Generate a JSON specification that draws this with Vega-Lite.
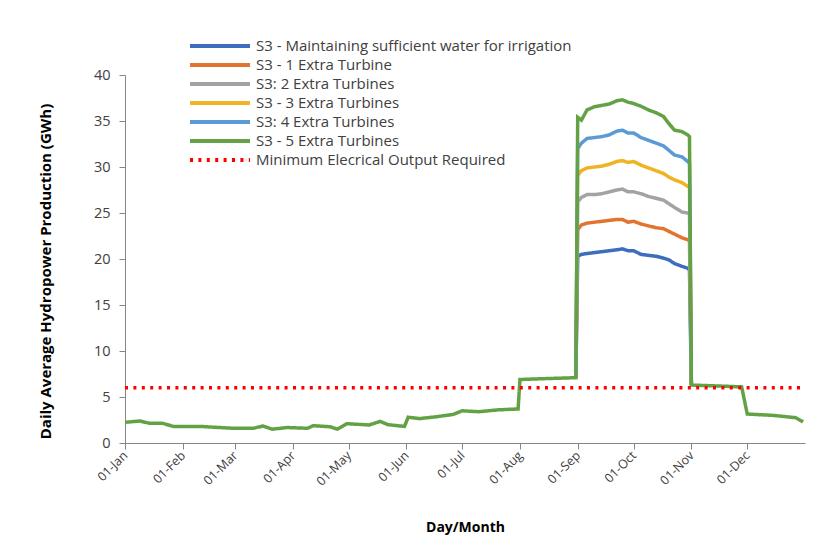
{
  "$schema": "https://vega.github.io/schema/vega-lite/v6.json",
  "width": 680,
  "height": 368,
  "autosize": {"type": "none"},
  "padding": {"left": 125, "top": 75, "right": 28, "bottom": 109},
  "background": "white",
  "config": {
    "view": {"stroke": null},
    "font": "Open Sans",
    "legend": {"padding": 0}
  },
  "data": {
    "values": [
      {"d": "2015/08/31", "s": "S3 - Maintaining sufficient water for irrigation", "v": 7.1},
      {"d": "2015/09/01", "s": "S3 - Maintaining sufficient water for irrigation", "v": 20.3},
      {"d": "2015/09/03", "s": "S3 - Maintaining sufficient water for irrigation", "v": 20.5},
      {"d": "2015/09/06", "s": "S3 - Maintaining sufficient water for irrigation", "v": 20.6},
      {"d": "2015/09/10", "s": "S3 - Maintaining sufficient water for irrigation", "v": 20.7},
      {"d": "2015/09/14", "s": "S3 - Maintaining sufficient water for irrigation", "v": 20.8},
      {"d": "2015/09/18", "s": "S3 - Maintaining sufficient water for irrigation", "v": 20.9},
      {"d": "2015/09/22", "s": "S3 - Maintaining sufficient water for irrigation", "v": 21.0},
      {"d": "2015/09/25", "s": "S3 - Maintaining sufficient water for irrigation", "v": 21.1},
      {"d": "2015/09/28", "s": "S3 - Maintaining sufficient water for irrigation", "v": 20.9},
      {"d": "2015/10/01", "s": "S3 - Maintaining sufficient water for irrigation", "v": 20.9},
      {"d": "2015/10/05", "s": "S3 - Maintaining sufficient water for irrigation", "v": 20.5},
      {"d": "2015/10/09", "s": "S3 - Maintaining sufficient water for irrigation", "v": 20.4},
      {"d": "2015/10/13", "s": "S3 - Maintaining sufficient water for irrigation", "v": 20.3},
      {"d": "2015/10/17", "s": "S3 - Maintaining sufficient water for irrigation", "v": 20.1},
      {"d": "2015/10/20", "s": "S3 - Maintaining sufficient water for irrigation", "v": 19.9},
      {"d": "2015/10/23", "s": "S3 - Maintaining sufficient water for irrigation", "v": 19.5},
      {"d": "2015/10/27", "s": "S3 - Maintaining sufficient water for irrigation", "v": 19.2},
      {"d": "2015/10/30", "s": "S3 - Maintaining sufficient water for irrigation", "v": 19.0},
      {"d": "2015/10/31", "s": "S3 - Maintaining sufficient water for irrigation", "v": 18.8},
      {"d": "2015/11/01", "s": "S3 - Maintaining sufficient water for irrigation", "v": 6.3},

      {"d": "2015/08/31", "s": "S3 - 1 Extra Turbine", "v": 7.1},
      {"d": "2015/09/01", "s": "S3 - 1 Extra Turbine", "v": 23.2},
      {"d": "2015/09/03", "s": "S3 - 1 Extra Turbine", "v": 23.7},
      {"d": "2015/09/06", "s": "S3 - 1 Extra Turbine", "v": 23.9},
      {"d": "2015/09/10", "s": "S3 - 1 Extra Turbine", "v": 24.0},
      {"d": "2015/09/14", "s": "S3 - 1 Extra Turbine", "v": 24.1},
      {"d": "2015/09/18", "s": "S3 - 1 Extra Turbine", "v": 24.2},
      {"d": "2015/09/22", "s": "S3 - 1 Extra Turbine", "v": 24.3},
      {"d": "2015/09/25", "s": "S3 - 1 Extra Turbine", "v": 24.3},
      {"d": "2015/09/28", "s": "S3 - 1 Extra Turbine", "v": 24.0},
      {"d": "2015/10/01", "s": "S3 - 1 Extra Turbine", "v": 24.1},
      {"d": "2015/10/05", "s": "S3 - 1 Extra Turbine", "v": 23.8},
      {"d": "2015/10/09", "s": "S3 - 1 Extra Turbine", "v": 23.6},
      {"d": "2015/10/13", "s": "S3 - 1 Extra Turbine", "v": 23.4},
      {"d": "2015/10/17", "s": "S3 - 1 Extra Turbine", "v": 23.3},
      {"d": "2015/10/20", "s": "S3 - 1 Extra Turbine", "v": 23.0},
      {"d": "2015/10/23", "s": "S3 - 1 Extra Turbine", "v": 22.7},
      {"d": "2015/10/27", "s": "S3 - 1 Extra Turbine", "v": 22.3},
      {"d": "2015/10/30", "s": "S3 - 1 Extra Turbine", "v": 22.1},
      {"d": "2015/10/31", "s": "S3 - 1 Extra Turbine", "v": 22.1},
      {"d": "2015/11/01", "s": "S3 - 1 Extra Turbine", "v": 6.3},

      {"d": "2015/08/31", "s": "S3: 2 Extra Turbines", "v": 7.1},
      {"d": "2015/09/01", "s": "S3: 2 Extra Turbines", "v": 26.2},
      {"d": "2015/09/03", "s": "S3: 2 Extra Turbines", "v": 26.7},
      {"d": "2015/09/06", "s": "S3: 2 Extra Turbines", "v": 27.0},
      {"d": "2015/09/10", "s": "S3: 2 Extra Turbines", "v": 27.0},
      {"d": "2015/09/14", "s": "S3: 2 Extra Turbines", "v": 27.1},
      {"d": "2015/09/18", "s": "S3: 2 Extra Turbines", "v": 27.3},
      {"d": "2015/09/22", "s": "S3: 2 Extra Turbines", "v": 27.5},
      {"d": "2015/09/25", "s": "S3: 2 Extra Turbines", "v": 27.6},
      {"d": "2015/09/28", "s": "S3: 2 Extra Turbines", "v": 27.3},
      {"d": "2015/10/01", "s": "S3: 2 Extra Turbines", "v": 27.3},
      {"d": "2015/10/05", "s": "S3: 2 Extra Turbines", "v": 27.1},
      {"d": "2015/10/09", "s": "S3: 2 Extra Turbines", "v": 26.8},
      {"d": "2015/10/13", "s": "S3: 2 Extra Turbines", "v": 26.6},
      {"d": "2015/10/17", "s": "S3: 2 Extra Turbines", "v": 26.4},
      {"d": "2015/10/20", "s": "S3: 2 Extra Turbines", "v": 26.0},
      {"d": "2015/10/23", "s": "S3: 2 Extra Turbines", "v": 25.6},
      {"d": "2015/10/27", "s": "S3: 2 Extra Turbines", "v": 25.1},
      {"d": "2015/10/30", "s": "S3: 2 Extra Turbines", "v": 25.0},
      {"d": "2015/10/31", "s": "S3: 2 Extra Turbines", "v": 25.0},
      {"d": "2015/11/01", "s": "S3: 2 Extra Turbines", "v": 6.3},

      {"d": "2015/08/31", "s": "S3 - 3 Extra Turbines", "v": 7.1},
      {"d": "2015/09/01", "s": "S3 - 3 Extra Turbines", "v": 29.1},
      {"d": "2015/09/03", "s": "S3 - 3 Extra Turbines", "v": 29.6},
      {"d": "2015/09/06", "s": "S3 - 3 Extra Turbines", "v": 29.9},
      {"d": "2015/09/10", "s": "S3 - 3 Extra Turbines", "v": 30.0},
      {"d": "2015/09/14", "s": "S3 - 3 Extra Turbines", "v": 30.1},
      {"d": "2015/09/18", "s": "S3 - 3 Extra Turbines", "v": 30.3},
      {"d": "2015/09/22", "s": "S3 - 3 Extra Turbines", "v": 30.6},
      {"d": "2015/09/25", "s": "S3 - 3 Extra Turbines", "v": 30.7},
      {"d": "2015/09/28", "s": "S3 - 3 Extra Turbines", "v": 30.5},
      {"d": "2015/10/01", "s": "S3 - 3 Extra Turbines", "v": 30.6},
      {"d": "2015/10/05", "s": "S3 - 3 Extra Turbines", "v": 30.2},
      {"d": "2015/10/09", "s": "S3 - 3 Extra Turbines", "v": 29.9},
      {"d": "2015/10/13", "s": "S3 - 3 Extra Turbines", "v": 29.6},
      {"d": "2015/10/17", "s": "S3 - 3 Extra Turbines", "v": 29.3},
      {"d": "2015/10/20", "s": "S3 - 3 Extra Turbines", "v": 28.9},
      {"d": "2015/10/23", "s": "S3 - 3 Extra Turbines", "v": 28.6},
      {"d": "2015/10/27", "s": "S3 - 3 Extra Turbines", "v": 28.3},
      {"d": "2015/10/30", "s": "S3 - 3 Extra Turbines", "v": 27.9},
      {"d": "2015/10/31", "s": "S3 - 3 Extra Turbines", "v": 27.8},
      {"d": "2015/11/01", "s": "S3 - 3 Extra Turbines", "v": 6.3},

      {"d": "2015/08/31", "s": "S3: 4 Extra Turbines", "v": 7.1},
      {"d": "2015/09/01", "s": "S3: 4 Extra Turbines", "v": 32.0},
      {"d": "2015/09/03", "s": "S3: 4 Extra Turbines", "v": 32.6},
      {"d": "2015/09/06", "s": "S3: 4 Extra Turbines", "v": 33.1},
      {"d": "2015/09/10", "s": "S3: 4 Extra Turbines", "v": 33.2},
      {"d": "2015/09/14", "s": "S3: 4 Extra Turbines", "v": 33.3},
      {"d": "2015/09/18", "s": "S3: 4 Extra Turbines", "v": 33.5},
      {"d": "2015/09/22", "s": "S3: 4 Extra Turbines", "v": 33.9},
      {"d": "2015/09/25", "s": "S3: 4 Extra Turbines", "v": 34.0},
      {"d": "2015/09/28", "s": "S3: 4 Extra Turbines", "v": 33.7},
      {"d": "2015/10/01", "s": "S3: 4 Extra Turbines", "v": 33.7},
      {"d": "2015/10/05", "s": "S3: 4 Extra Turbines", "v": 33.2},
      {"d": "2015/10/09", "s": "S3: 4 Extra Turbines", "v": 32.9},
      {"d": "2015/10/13", "s": "S3: 4 Extra Turbines", "v": 32.6},
      {"d": "2015/10/17", "s": "S3: 4 Extra Turbines", "v": 32.3},
      {"d": "2015/10/20", "s": "S3: 4 Extra Turbines", "v": 31.8},
      {"d": "2015/10/23", "s": "S3: 4 Extra Turbines", "v": 31.3},
      {"d": "2015/10/27", "s": "S3: 4 Extra Turbines", "v": 31.1},
      {"d": "2015/10/30", "s": "S3: 4 Extra Turbines", "v": 30.6},
      {"d": "2015/10/31", "s": "S3: 4 Extra Turbines", "v": 30.4},
      {"d": "2015/11/01", "s": "S3: 4 Extra Turbines", "v": 6.3},

      {"d": "2015/01/01", "s": "S3 - 5 Extra Turbines", "v": 2.25},
      {"d": "2015/01/09", "s": "S3 - 5 Extra Turbines", "v": 2.39},
      {"d": "2015/01/14", "s": "S3 - 5 Extra Turbines", "v": 2.15},
      {"d": "2015/01/21", "s": "S3 - 5 Extra Turbines", "v": 2.15},
      {"d": "2015/01/27", "s": "S3 - 5 Extra Turbines", "v": 1.8},
      {"d": "2015/02/12", "s": "S3 - 5 Extra Turbines", "v": 1.78},
      {"d": "2015/02/28", "s": "S3 - 5 Extra Turbines", "v": 1.6},
      {"d": "2015/03/11", "s": "S3 - 5 Extra Turbines", "v": 1.6},
      {"d": "2015/03/16", "s": "S3 - 5 Extra Turbines", "v": 1.85},
      {"d": "2015/03/21", "s": "S3 - 5 Extra Turbines", "v": 1.5},
      {"d": "2015/03/29", "s": "S3 - 5 Extra Turbines", "v": 1.68},
      {"d": "2015/04/09", "s": "S3 - 5 Extra Turbines", "v": 1.6},
      {"d": "2015/04/12", "s": "S3 - 5 Extra Turbines", "v": 1.88},
      {"d": "2015/04/21", "s": "S3 - 5 Extra Turbines", "v": 1.77},
      {"d": "2015/04/25", "s": "S3 - 5 Extra Turbines", "v": 1.5},
      {"d": "2015/04/30", "s": "S3 - 5 Extra Turbines", "v": 2.1},
      {"d": "2015/05/12", "s": "S3 - 5 Extra Turbines", "v": 1.96},
      {"d": "2015/05/18", "s": "S3 - 5 Extra Turbines", "v": 2.35},
      {"d": "2015/05/22", "s": "S3 - 5 Extra Turbines", "v": 2.0},
      {"d": "2015/05/31", "s": "S3 - 5 Extra Turbines", "v": 1.8},
      {"d": "2015/06/02", "s": "S3 - 5 Extra Turbines", "v": 2.8},
      {"d": "2015/06/08", "s": "S3 - 5 Extra Turbines", "v": 2.65},
      {"d": "2015/06/17", "s": "S3 - 5 Extra Turbines", "v": 2.85},
      {"d": "2015/06/26", "s": "S3 - 5 Extra Turbines", "v": 3.1},
      {"d": "2015/07/01", "s": "S3 - 5 Extra Turbines", "v": 3.5},
      {"d": "2015/07/10", "s": "S3 - 5 Extra Turbines", "v": 3.4},
      {"d": "2015/07/20", "s": "S3 - 5 Extra Turbines", "v": 3.6},
      {"d": "2015/07/31", "s": "S3 - 5 Extra Turbines", "v": 3.7},
      {"d": "2015/08/01", "s": "S3 - 5 Extra Turbines", "v": 6.9},
      {"d": "2015/08/15", "s": "S3 - 5 Extra Turbines", "v": 7.0},
      {"d": "2015/08/31", "s": "S3 - 5 Extra Turbines", "v": 7.1},
      {"d": "2015/09/01", "s": "S3 - 5 Extra Turbines", "v": 35.4},
      {"d": "2015/09/03", "s": "S3 - 5 Extra Turbines", "v": 35.1},
      {"d": "2015/09/06", "s": "S3 - 5 Extra Turbines", "v": 36.2},
      {"d": "2015/09/10", "s": "S3 - 5 Extra Turbines", "v": 36.55},
      {"d": "2015/09/14", "s": "S3 - 5 Extra Turbines", "v": 36.7},
      {"d": "2015/09/18", "s": "S3 - 5 Extra Turbines", "v": 36.85},
      {"d": "2015/09/22", "s": "S3 - 5 Extra Turbines", "v": 37.2},
      {"d": "2015/09/25", "s": "S3 - 5 Extra Turbines", "v": 37.3},
      {"d": "2015/09/28", "s": "S3 - 5 Extra Turbines", "v": 37.05},
      {"d": "2015/10/01", "s": "S3 - 5 Extra Turbines", "v": 36.9},
      {"d": "2015/10/05", "s": "S3 - 5 Extra Turbines", "v": 36.6},
      {"d": "2015/10/09", "s": "S3 - 5 Extra Turbines", "v": 36.2},
      {"d": "2015/10/13", "s": "S3 - 5 Extra Turbines", "v": 35.9},
      {"d": "2015/10/17", "s": "S3 - 5 Extra Turbines", "v": 35.5},
      {"d": "2015/10/20", "s": "S3 - 5 Extra Turbines", "v": 34.7},
      {"d": "2015/10/23", "s": "S3 - 5 Extra Turbines", "v": 34.0},
      {"d": "2015/10/27", "s": "S3 - 5 Extra Turbines", "v": 33.85},
      {"d": "2015/10/30", "s": "S3 - 5 Extra Turbines", "v": 33.5},
      {"d": "2015/10/31", "s": "S3 - 5 Extra Turbines", "v": 33.3},
      {"d": "2015/11/01", "s": "S3 - 5 Extra Turbines", "v": 6.3},
      {"d": "2015/11/15", "s": "S3 - 5 Extra Turbines", "v": 6.2},
      {"d": "2015/11/28", "s": "S3 - 5 Extra Turbines", "v": 6.1},
      {"d": "2015/12/01", "s": "S3 - 5 Extra Turbines", "v": 3.15},
      {"d": "2015/12/15", "s": "S3 - 5 Extra Turbines", "v": 3.0},
      {"d": "2015/12/27", "s": "S3 - 5 Extra Turbines", "v": 2.75},
      {"d": "2015/12/31", "s": "S3 - 5 Extra Turbines", "v": 2.3},

      {"d": "2015/01/01", "s": "Minimum Elecrical Output Required", "v": 6},
      {"d": "2016/01/01", "s": "Minimum Elecrical Output Required", "v": 6}
    ]
  },
  "mark": {"type": "line", "strokeWidth": 3.5, "interpolate": "linear"},
  "encoding": {
    "x": {
      "field": "d",
      "type": "temporal",
      "scale": {"domain": [{"year": 2015, "month": 1, "date": 1}, {"year": 2016, "month": 1, "date": 1}]},
      "axis": {
        "title": "Day/Month",
        "titleFontSize": 14,
        "titleFontWeight": "bold",
        "titleColor": "#000000",
        "titleY": 84,
        "titleBaseline": "middle",
        "values": [
          {"year": 2015, "month": 1, "date": 1},
          {"year": 2015, "month": 2, "date": 1},
          {"year": 2015, "month": 3, "date": 1},
          {"year": 2015, "month": 4, "date": 1},
          {"year": 2015, "month": 5, "date": 1},
          {"year": 2015, "month": 6, "date": 1},
          {"year": 2015, "month": 7, "date": 1},
          {"year": 2015, "month": 8, "date": 1},
          {"year": 2015, "month": 9, "date": 1},
          {"year": 2015, "month": 10, "date": 1},
          {"year": 2015, "month": 11, "date": 1},
          {"year": 2015, "month": 12, "date": 1}
        ],
        "format": "%d-%b",
        "labelAngle": -45,
        "labelAlign": "right",
        "labelBaseline": "middle",
        "labelFontSize": 12.5,
        "labelColor": "#404040",
        "labelPadding": 4,
        "labelOverlap": false,
        "labelFlush": false,
        "domainColor": "#868686",
        "tickColor": "#868686",
        "tickSize": 6,
        "grid": false
      }
    },
    "y": {
      "field": "v",
      "type": "quantitative",
      "scale": {"domain": [0, 40], "nice": false},
      "axis": {
        "title": "Daily Average Hydropower Production (GWh)",
        "titleFontSize": 15,
        "titleFontWeight": "bold",
        "titleColor": "#000000",
        "titleX": -80,
        "titleY": 196,
        "titleAngle": -90,
        "titleAlign": "center",
        "titleBaseline": "middle",
        "values": [0, 5, 10, 15, 20, 25, 30, 35, 40],
        "labelFontSize": 14.5,
        "labelColor": "#404040",
        "labelPadding": 9,
        "domainColor": "#868686",
        "tickColor": "#868686",
        "tickSize": 6,
        "grid": false
      }
    },
    "color": {
      "field": "s",
      "type": "nominal",
      "sort": null,
      "scale": {
        "domain": [
          "S3 - Maintaining sufficient water for irrigation",
          "S3 - 1 Extra Turbine",
          "S3: 2 Extra Turbines",
          "S3 - 3 Extra Turbines",
          "S3: 4 Extra Turbines",
          "S3 - 5 Extra Turbines",
          "Minimum Elecrical Output Required"
        ],
        "range": ["#3E6DBE", "#E2742F", "#A3A3A3", "#EEB423", "#5B9BD5", "#63A145", "#FF0000"]
      },
      "legend": {
        "title": null,
        "orient": "none",
        "legendX": 63,
        "legendY": -38.5,
        "symbolType": "stroke",
        "symbolSize": 3600,
        "symbolStrokeWidth": 4,
        "labelFontSize": 15,
        "labelColor": "#404040",
        "labelLimit": 500,
        "labelOffset": 4,
        "clipHeight": 19,
        "rowPadding": 0,
        "symbolOffset": 0
      }
    },
    "strokeDash": {
      "field": "s",
      "type": "nominal",
      "sort": null,
      "scale": {
        "domain": [
          "S3 - Maintaining sufficient water for irrigation",
          "S3 - 1 Extra Turbine",
          "S3: 2 Extra Turbines",
          "S3 - 3 Extra Turbines",
          "S3: 4 Extra Turbines",
          "S3 - 5 Extra Turbines",
          "Minimum Elecrical Output Required"
        ],
        "range": [[1, 0], [1, 0], [1, 0], [1, 0], [1, 0], [1, 0], [3, 5.4]]
      },
      "legend": {
        "title": null,
        "orient": "none",
        "legendX": 63,
        "legendY": -38.5,
        "symbolType": "stroke",
        "symbolSize": 3600,
        "symbolStrokeWidth": 4,
        "labelFontSize": 15,
        "labelColor": "#404040",
        "labelLimit": 500,
        "labelOffset": 4,
        "clipHeight": 19,
        "rowPadding": 0,
        "symbolOffset": 0
      }
    }
  }
}
